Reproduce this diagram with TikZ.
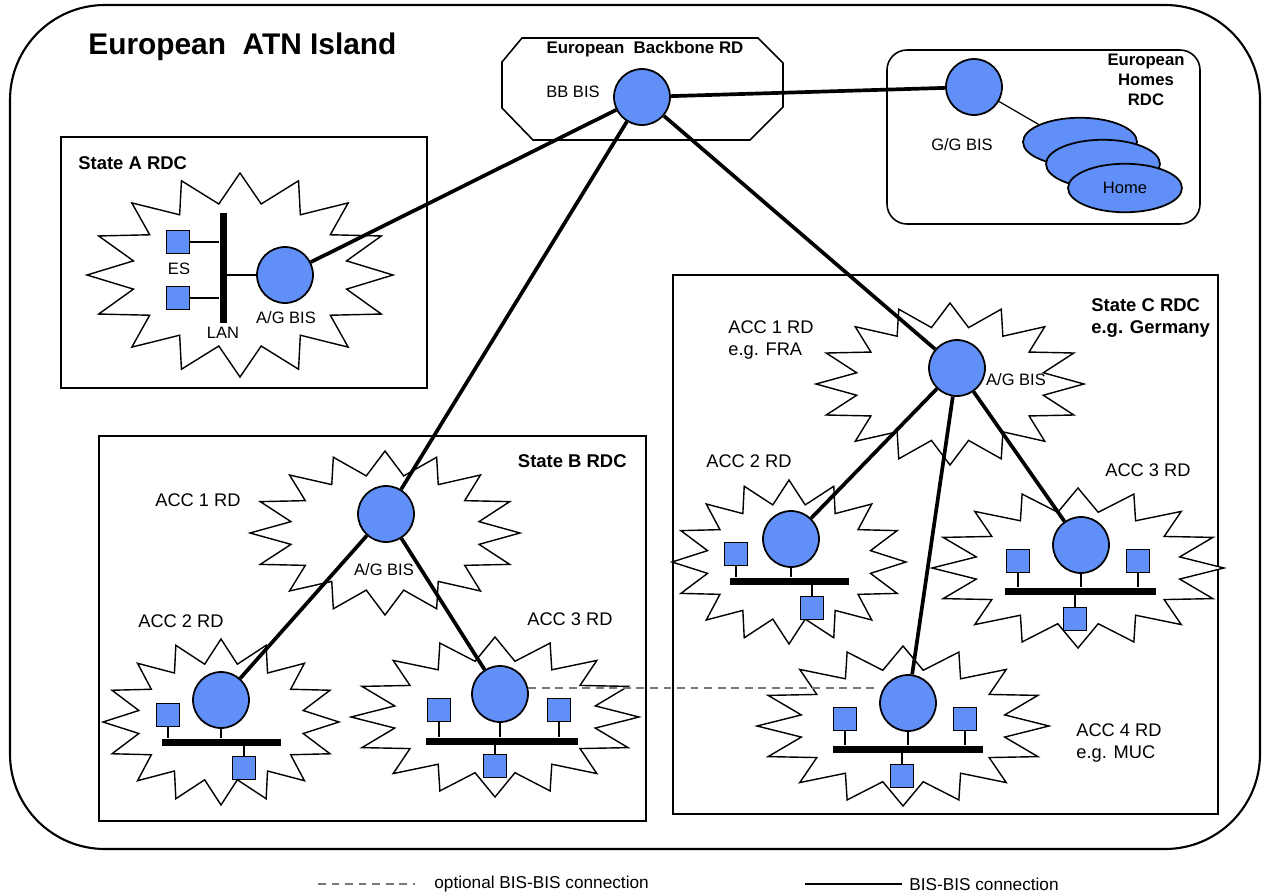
\documentclass[tikz,border=0pt]{standalone}
\usepackage{fontspec}
\setmainfont{Liberation Sans}
\usetikzlibrary{shapes.geometric,calc}
\definecolor{bisblue}{RGB}{95,143,247}
\definecolor{dashgray}{RGB}{120,120,120}
\tikzset{
 bis/.style={circle, draw=black, line width=1pt, fill=bisblue, minimum size=1.12cm, inner sep=0pt},
 es/.style={rectangle, draw=black, line width=0.8pt, fill=bisblue, minimum size=0.46cm, inner sep=0pt},
 lanbar/.style={rectangle, fill=black, inner sep=0pt, minimum height=0.14cm},
 vlanbar/.style={rectangle, fill=black, inner sep=0pt, minimum width=0.14cm},
 home/.style={ellipse, draw=black, line width=1pt, fill=bisblue, minimum width=2.28cm, minimum height=0.97cm, inner sep=0pt, font=\fontsize{9.4}{11}\selectfont},
 bburst/.style={draw=black, line width=0.8pt, fill=white, line join=miter},
 rdbox/.style={draw=black, line width=0.9pt},
 link/.style={line width=2.1pt},
 opt/.style={dash pattern=on 4.5pt off 3.2pt, line width=0.7pt, draw=dashgray},
 stub/.style={line width=0.7pt},
 lbl/.style={font=\fontsize{10.4}{12}\selectfont, inner sep=0pt},
 sml/.style={font=\fontsize{9.4}{11}\selectfont, inner sep=0pt},
 ttl/.style={font=\fontsize{10.5}{12.6}\selectfont\bfseries, inner sep=0pt, align=left},
}
\newcommand\burstat[4]{\draw[bburst] plot[domain=0:31, samples=32, variable=\k] ({#1+#3*(1-0.29*mod(\k,2))*cos(90+\k*11.25)},{#2+#4*(1-0.29*mod(\k,2))*sin(90+\k*11.25)}) -- cycle;}
\newcommand\lanup[2]{\draw[stub] (#1.south) -- (#1.south |- #2.north);}
\newcommand\landown[2]{\draw[stub] (#1.north) -- (#1.north |- #2.south);}
\begin{document}
\begin{tikzpicture}[x=0.02cm, y=-0.02cm]
\useasboundingbox (0,0) rectangle (1269,896);
% outer island
\draw[line width=1.2pt, rounded corners=1.9cm] (10,5) rectangle (1260,849);
\node[font=\fontsize{17}{20}\selectfont\bfseries, anchor=west, inner sep=0pt] (island) at (88,47) {European\ \ ATN Island};

% backbone
\draw[rdbox] (522,38) -- (758,38) -- (783,63) -- (783,107) -- (750,140) -- (533,140) -- (502,108) -- (502,62) -- cycle;
\node[font=\fontsize{9.6}{11}\selectfont\bfseries, inner sep=0pt] (bbt) at (645,49) {European\ \ Backbone RD};
\node[sml] (bbl) at (573,92) {BB BIS};

% homes
\draw[rdbox, rounded corners=0.4cm] (887,50) rectangle (1200,224);
\node[font=\fontsize{9.5}{11.3}\selectfont\bfseries, inner sep=0pt, align=center] (homest) at (1146,80) {European\\Homes\\RDC};
\node[sml] (ggl) at (962,145) {G/G BIS};
\node[home] (h1) at (1080,142) {};
\node[home] (h2) at (1103,164) {};
\node[home] (h3) at (1125,188) {Home};

% State A
\draw[rdbox] (61,137) rectangle (427,388);
\node[ttl, anchor=west] (sat) at (78,163) {State A RDC};
\burstat{240}{275}{153}{102}
\node[bis] (ag) at (285,275) {};
\node[es] (esa1) at (178,242) {};
\node[es] (esa2) at (178,298) {};
\node[vlanbar, minimum height=2.22cm] (lana) at (223,268) {};
\draw[stub] (esa1.east) -- (esa1.east -| lana.west);
\draw[stub] (esa2.east) -- (esa2.east -| lana.west);
\draw[stub] (lana.east |- ag.west) -- (ag.west);
\node[sml] (esl) at (179,269) {ES};
\node[sml] (lanl) at (223,333) {LAN};
\node[sml] (agl) at (286,318) {A/G BIS};

% State B
\draw[rdbox] (99,436) rectangle (646,821);
\node[ttl, anchor=east] (sbt) at (627,461) {State B RDC};
\burstat{385}{533}{135}{82}
\burstat{221}{722}{118}{83}
\burstat{495}{717}{144}{80}
\node[bis] (b1) at (386,514) {};
\node[lbl] (b1l) at (198,500) {ACC 1 RD};
\node[sml] (b1g) at (384,570) {A/G BIS};
\node[lbl] (b2l) at (181,621) {ACC 2 RD};
\node[lbl] (b3l) at (570,619) {ACC 3 RD};
% B ACC2
\node[bis] (b2) at (221,700) {};
\node[lanbar, minimum width=2.38cm] (lanb2) at (221.5,742) {};
\node[es] (b2s1) at (168,715) {};
\node[es] (b2s2) at (244,768) {};
\lanup{b2s1}{lanb2}
\lanup{b2}{lanb2}
\landown{b2s2}{lanb2}
% B ACC3
\node[bis] (b3) at (500,694) {};
\node[lanbar, minimum width=3.04cm] (lanb3) at (502,741) {};
\node[es] (b3s1) at (439,710) {};
\node[es] (b3s2) at (559,710) {};
\node[es] (b3s3) at (495,766) {};
\lanup{b3s1}{lanb3}
\lanup{b3s2}{lanb3}
\lanup{b3}{lanb3}
\landown{b3s3}{lanb3}

% State C
\draw[rdbox] (673,275) rectangle (1218,814);
\node[ttl, anchor=west] (sct) at (1091,318) {State C RDC\\e.g. Germany};
\burstat{950}{384}{134}{81}
\burstat{789}{562}{117}{82}
\burstat{1078}{568}{146}{80}
\burstat{903}{726}{146}{80}
\node[bis] (c1) at (957,368) {};
\node[sml] (c1g) at (1016,380) {A/G BIS};
\node[lbl, anchor=west, align=left, font=\fontsize{10.4}{13}\selectfont] (c1l) at (728,340) {ACC 1 RD\\e.g. FRA};
\node[lbl] (c2l) at (749,461) {ACC 2 RD};
\node[lbl] (c3l) at (1148,470) {ACC 3 RD};
\node[lbl, anchor=west, align=left, font=\fontsize{10.4}{12}\selectfont] (c4l) at (1076,743) {ACC 4 RD\\e.g. MUC};
% C ACC2
\node[bis] (c2) at (791,539) {};
\node[lanbar, minimum width=2.38cm] (lanc2) at (789.5,581) {};
\node[es] (c2s1) at (736,554) {};
\node[es] (c2s2) at (812,608) {};
\lanup{c2s1}{lanc2}
\lanup{c2}{lanc2}
\landown{c2s2}{lanc2}
% C ACC3
\node[bis] (c3) at (1081,545) {};
\node[lanbar, minimum width=3.02cm] (lanc3) at (1080.5,591) {};
\node[es] (c3s1) at (1018,561) {};
\node[es] (c3s2) at (1138,561) {};
\node[es] (c3s3) at (1075,619) {};
\lanup{c3s1}{lanc3}
\lanup{c3s2}{lanc3}
\lanup{c3}{lanc3}
\landown{c3s3}{lanc3}
% C ACC4
\node[bis] (c4) at (908,703) {};
\node[lanbar, minimum width=3.0cm] (lanc4) at (908,749) {};
\node[es] (c4s1) at (845,719) {};
\node[es] (c4s2) at (965,719) {};
\node[es] (c4s3) at (902,776) {};
\lanup{c4s1}{lanc4}
\lanup{c4s2}{lanc4}
\lanup{c4}{lanc4}
\landown{c4s3}{lanc4}

% backbone BIS (on top)
\node[bis] (bb) at (642,97) {};
\node[bis] (gg) at (974,87) {};

% connections
\draw[stub] (gg) -- (h1.157);
\draw[link] (bb) -- (ag);
\draw[link] (bb) -- (gg);
\draw[link] (bb) -- (b1);
\draw[link] (bb) -- (c1);
\draw[link] (b1) -- (b2);
\draw[link] (b1) -- (b3);
\draw[link] (c1) -- (c2);
\draw[link] (c1) -- (c3);
\draw[link] (c1) -- (c4);
\draw[opt] (b3.12) -- (b3.12 -| c4.west);

% legend
\coordinate (d1) at (318,884);
\coordinate (d2) at (415,884);
\coordinate (s1) at (805,884);
\coordinate (s2) at (902,884);
\draw[opt] (d1) -- (d2);
\draw[line width=1.2pt] (s1) -- (s2);
\node[font=\fontsize{9.8}{11}\selectfont, anchor=west, inner sep=0pt] (dl) at (434,884) {optional BIS-BIS connection};
\node[font=\fontsize{9.8}{11}\selectfont, anchor=west, inner sep=0pt] (sl) at (909,884) {BIS-BIS connection};
\end{tikzpicture}
\end{document}
